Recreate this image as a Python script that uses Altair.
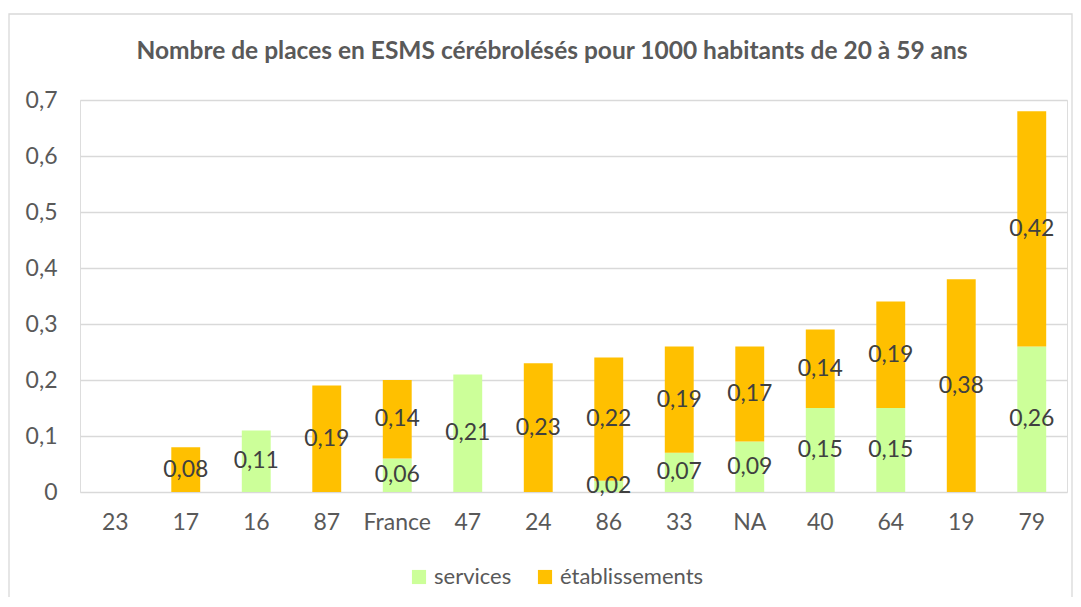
import altair as alt
import pandas as pd

categories = ["23", "17", "16", "87", "France", "47", "24", "86", "33", "NA", "40", "64", "19", "79"]
services = [0, 0, 0.11, 0, 0.06, 0.21, 0, 0.02, 0.07, 0.09, 0.15, 0.15, 0, 0.26]
etablissements = [0, 0.08, 0, 0.19, 0.14, 0, 0.23, 0.22, 0.19, 0.17, 0.14, 0.19, 0.38, 0.42]
series = ["services", "établissements"]
colors = ["#CCFF99", "#FFC000"]
title_text = "Nombre de places en ESMS cérébrolésés pour 1000 habitants de 20 à 59 ans"

rows = []
for i, c in enumerate(categories):
    rows.append({"cat": c, "serie": series[0], "ord": 0, "value": services[i]})
    rows.append({"cat": c, "serie": series[1], "ord": 1, "value": etablissements[i]})
df = pd.DataFrame(rows)

FONT = "Lato"
FS = 23
W, H = 987, 392

base = alt.Chart(df).transform_stack(
    stack="value", groupby=["cat"], as_=["y0", "y1"], sort=[alt.SortField("ord", order="ascending")]
)

xenc = alt.X("cat:N", sort=categories, title=None,
             scale=alt.Scale(paddingInner=0.59, paddingOuter=0.295),
             axis=alt.Axis(labelAngle=0, domain=False, ticks=False, labelFont=FONT,
                           labelFontSize=FS, labelColor="#595959", labelPadding=19))

bars = base.mark_bar().encode(
    x=xenc,
    y=alt.Y("y0:Q", title=None,
            scale=alt.Scale(domain=[0, 0.7], nice=False),
            axis=alt.Axis(values=[0, 0.1, 0.2, 0.3, 0.4, 0.5, 0.6, 0.7], domain=False, ticks=False,
                          grid=True, gridColor="#D9D9D9", gridWidth=1.3,
                          labelFont=FONT, labelFontSize=FS, labelColor="#595959", labelPadding=23,
                          labelExpr="datum.value == 0 ? '0' : replace(format(datum.value, '.1f'), '.', ',')")),
    y2="y1:Q",
    color=alt.Color("serie:N", sort=series, scale=alt.Scale(domain=series, range=colors),
                    legend=alt.Legend(title=None, orient="none", legendX=328, legendY=466,
                                      direction="horizontal", symbolType="square", symbolSize=200,
                                      symbolStrokeWidth=0, labelFont=FONT, labelFontSize=22,
                                      labelColor="#595959", columnPadding=22, labelOffset=4)),
)

labels = base.transform_filter("datum.value > 0").transform_calculate(
    mid="(datum.y0 + datum.y1) / 2",
    txt="replace(format(datum.value, '.2f'), '.', ',')",
).mark_text(font=FONT, fontSize=FS, color="#404040", baseline="middle").encode(
    x=alt.X("cat:N", sort=categories),
    y=alt.Y("mid:Q"),
    text="txt:N",
)

border = alt.Chart(pd.DataFrame({"k": [0]})).mark_rect(
    fill="transparent", stroke="#D9D9D9", strokeWidth=1.3
).encode(x=alt.value(-71), x2=alt.value(992), y=alt.value(-86), y2=alt.value(500))

title = alt.Chart(pd.DataFrame({"t": [title_text]})).mark_text(
    font=FONT, fontSize=24.5, fontWeight="bold", color="#595959", align="center", baseline="middle"
).encode(x=alt.value(472), y=alt.value(-48), text="t:N")

chart = alt.layer(border, bars, labels, title).properties(
    width=W, height=H,
    autosize=alt.AutoSizeParams(type="none"),
    padding={"left": 72, "top": 92, "right": 6, "bottom": 105},
).configure_view(strokeWidth=0).configure(background="white")

chart.save("out.html", embed_options={"renderer": "svg", "actions": False})
